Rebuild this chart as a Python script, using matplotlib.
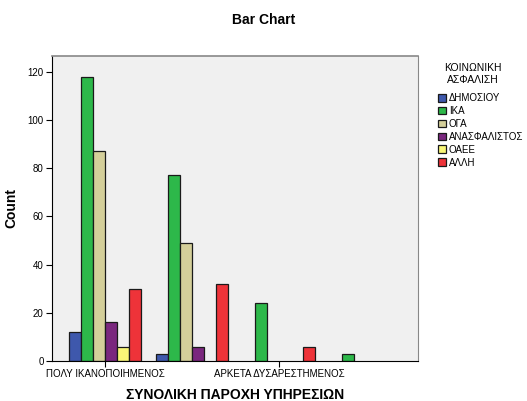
import matplotlib
matplotlib.use('Agg')
import matplotlib.pyplot as plt
import numpy as np

# dados
categorias = ['ΠΟΛΥ ΙΚΑΝΟΠΟΙΗΜΕΝΟΣ', 'ΑΡΚΕΤΑ ΙΚΑΝΟΠΟΙΗΜΕΝΟΣ',
              'ΑΡΚΕΤΑ ΔΥΣΑΡΕΣΤΗΜΕΝΟΣ', 'ΠΟΛΥ ΔΥΣΑΡΕΣΤΗΜΕΝΟΣ']
mostrar_rotulo = [True, False, True, False]
series = ['ΔΗΜΟΣΙΟΥ', 'ΙΚΑ', 'ΟΓΑ', 'ΑΝΑΣΦΑΛΙΣΤΟΣ', 'ΟΑΕΕ', 'ΑΛΛΗ']
dimosiou = [12, 3, 0, 0]
ika = [118, 77, 24, 3]
oga = [87, 49, 0, 0]
anasfalistos = [16, 6, 0, 0]
oaee = [6, 0, 0, 0]
alli = [30, 32, 6, 0]
valores = [dimosiou, ika, oga, anasfalistos, oaee, alli]
cores = ['#3E58AC', '#2DB84A', '#D4CF9A', '#7A277E', '#F9F777', '#EE3339']

plt.rcParams['font.family'] = ['Liberation Sans', 'DejaVu Sans']

fig = plt.figure(figsize=(5.27, 4.01), dpi=100)
ax = fig.add_axes([52 / 527, 40 / 401, 366 / 527, 305 / 401])
ax.set_facecolor('#F0F0F0')

x = np.arange(len(categorias))
largura = 0.138
handles = []
for i, (nome, v, c) in enumerate(zip(series, valores, cores)):
    pos = x + (i - 2.5) * largura
    v = np.array(v)
    b = ax.bar(pos[v > 0], v[v > 0], width=largura, color=c,
               edgecolor='#1a1a1a', linewidth=0.9, label=nome)
    handles.append(b)

ax.set_xlim(-0.609, 3.598)
ax.set_ylim(0, 126.6)
ax.set_yticks([0, 20, 40, 60, 80, 100, 120])
ax.set_xticks([x[i] for i in range(len(categorias)) if mostrar_rotulo[i]])
ax.set_xticklabels([categorias[i] for i in range(len(categorias)) if mostrar_rotulo[i]])
ax.tick_params(axis='both', labelsize=7, length=4, width=0.8, colors='black', pad=2)

ax.spines['left'].set_color('black')
ax.spines['bottom'].set_color('black')
ax.spines['top'].set_color('#888888')
ax.spines['right'].set_color('#888888')
ax.spines['top'].set_linewidth(1.2)

ax.set_ylabel('Count', fontsize=10, fontweight='bold')
ax.yaxis.set_label_coords(-0.093, 0.5)
ax.set_xlabel('ΣΥΝΟΛΙΚΗ ΠΑΡΟΧΗ ΥΠΗΡΕΣΙΩΝ', fontsize=10, fontweight='bold', va='center')
ax.xaxis.set_label_coords(0.5, -0.111)
fig.text(0.5, 1 - 20 / 401, 'Bar Chart', ha='center', va='center', fontsize=10, fontweight='bold')

fig.text(473 / 527, 1 - 74 / 401, 'ΚΟΙΝΩΝΙΚΗ\nΑΣΦΑΛΙΣΗ', ha='center', va='center',
         fontsize=7.5, linespacing=1.15)
leg = fig.legend(handles=handles, labels=series, loc='upper left',
                 bbox_to_anchor=(438 / 527, 1 - 93 / 401), frameon=False,
                 fontsize=7, handlelength=0.85, handleheight=0.85, handletextpad=0.25,
                 labelspacing=0.3, borderaxespad=0, borderpad=0)

fig.savefig('out.png', dpi=100)
